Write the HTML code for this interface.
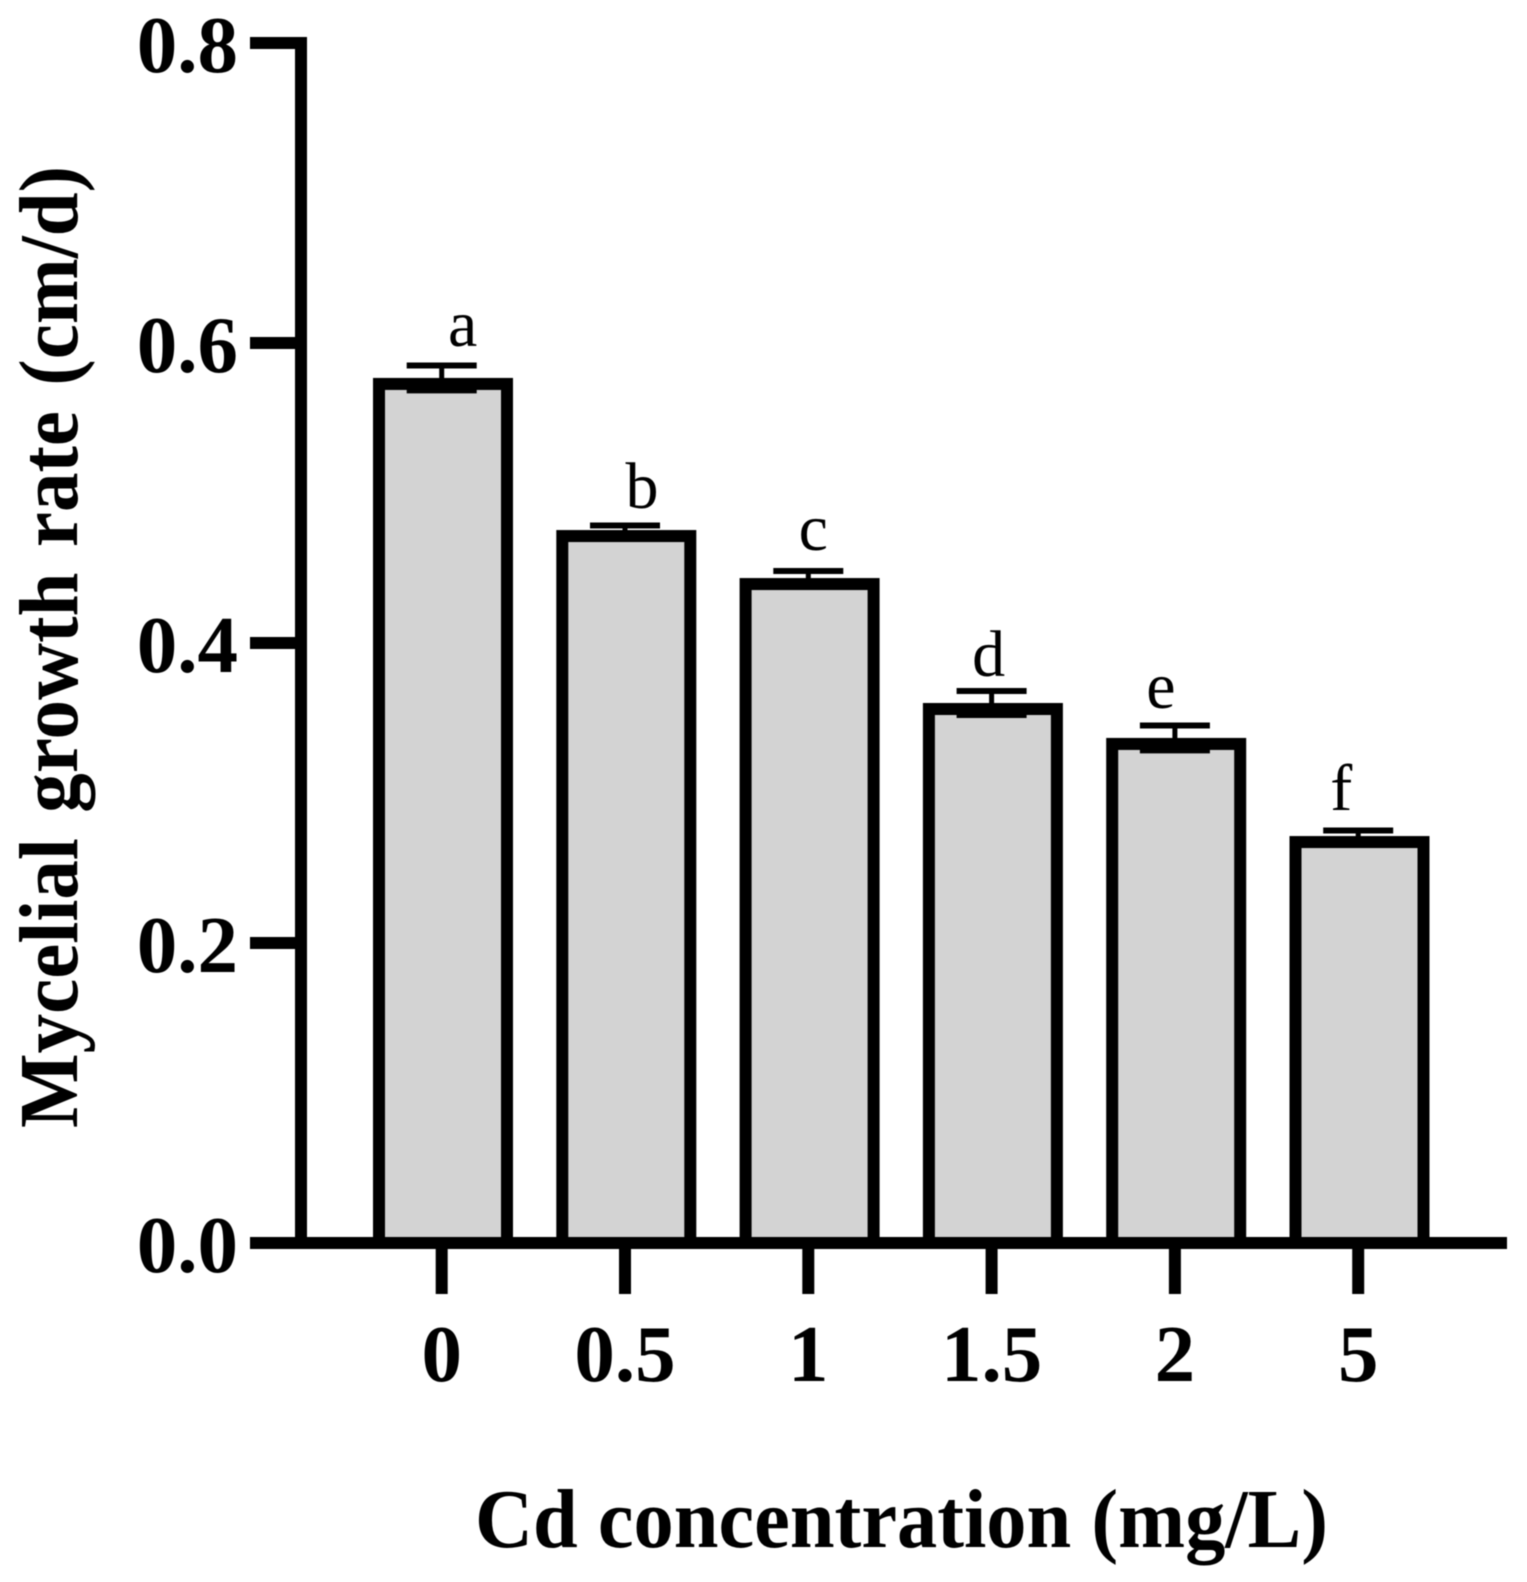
<!DOCTYPE html>
<html lang="en">
<head>
<meta charset="utf-8">
<title>Mycelial growth rate by Cd concentration</title>
<style>
  html, body { margin: 0; padding: 0; background: #fff; }
  #chart { display: block; width: 1527px; height: 1582px; filter: blur(0.6px); }
  text { font-family: "Liberation Serif", "Times New Roman", serif; fill: #000; }
  .bold { font-weight: bold; }
</style>
</head>
<body>
<svg id="chart" xmlns="http://www.w3.org/2000/svg" width="1527" height="1582" viewBox="0 0 1527 1582">
  <rect x="0" y="0" width="1527" height="1582" fill="#fff"></rect>
  <g id="bars"></g>
  <g id="errors"></g>
  <g id="letters"></g>
  <g id="axes"></g>
  <text class="bold" font-size="84" text-anchor="start" transform="translate(77,1128) rotate(-90)" textLength="962" lengthAdjust="spacingAndGlyphs" word-spacing="6">Mycelial growth rate (cm/d)</text>
  <text class="bold" font-size="84" x="475" y="1547" textLength="853" lengthAdjust="spacingAndGlyphs">Cd concentration (mg/L)</text>
</svg>
<script>
const categories = ['0', '0.5', '1', '1.5', '2', '5'];
const growthRates = [0.5767, 0.4753, 0.4433, 0.36, 0.3367, 0.2713];
const errorValues = [0.0083, 0.003, 0.0047, 0.008, 0.0083, 0.0037];
const significance = ['a', 'b', 'c', 'd', 'e', 'f'];
const yTickValues = [0, 0.2, 0.4, 0.6, 0.8];
const yTickLabels = ['0.0', '0.2', '0.4', '0.6', '0.8'];

/* Label nudges relative to each category's error bar */
const letterNudgeX = [21, 17, 5, -3, -14, -17];
const letterNudgeY = [-19.5, -17.5, -21, -15, -17.5, -20.5];

const NS = 'http://www.w3.org/2000/svg';
const AXIS_W = 12;
const BAR_W = 140;
const BAR_STROKE = 12;
const CAP_W = 70;

function yScale(v) { return 1243 - 1500 * v; }
function xScale(i) { return 441.7 + 183.3 * i; }
function barCenter(i) { return xScale(i) + 1.3; }

function make(tag, parent, attrs) {
  const el = document.createElementNS(NS, tag);
  Object.keys(attrs).forEach(function (k) { el.setAttribute(k, attrs[k]); });
  parent.appendChild(el);
  return el;
}

const barsG = document.getElementById('bars');
const errorsG = document.getElementById('errors');
const lettersG = document.getElementById('letters');
const axesG = document.getElementById('axes');

categories.forEach(function (cat, i) {
  const top = yScale(growthRates[i]);
  const base = yScale(0);
  const cx = barCenter(i);
  const half = BAR_STROKE / 2;
  const bar = make('rect', barsG, {
    x: cx - BAR_W / 2 + half,
    y: top + half,
    width: BAR_W - BAR_STROKE,
    height: base - top - half,
    fill: '#d3d3d3',
    stroke: '#000',
    'stroke-width': BAR_STROKE
  });
  
  

  const ex = xScale(i);
  const hi = yScale(growthRates[i] + errorValues[i]);
  const lo = yScale(growthRates[i] - errorValues[i]);
  const stem = make('line', errorsG, { x1: ex, x2: ex, y1: hi, y2: lo, stroke: '#000', 'stroke-width': 5 });
  
  
  const capHi = make('line', errorsG, { x1: ex - CAP_W / 2, x2: ex + CAP_W / 2, y1: hi, y2: hi, stroke: '#000', 'stroke-width': 6 });
  
  
  const capLo = make('line', errorsG, { x1: ex - CAP_W / 2, x2: ex + CAP_W / 2, y1: lo, y2: lo, stroke: '#000', 'stroke-width': 6 });
  
  

  const letter = make('text', lettersG, {
    x: ex + letterNudgeX[i],
    y: hi + letterNudgeY[i],
    'font-size': 66,
    'text-anchor': 'middle'
  });
  letter.textContent = significance[i];
  
  

  const tick = make('line', axesG, { x1: ex, x2: ex, y1: yScale(0), y2: 1294, stroke: '#000', 'stroke-width': AXIS_W });
  
  
  const tickLabel = make('text', axesG, {
    x: ex,
    y: 1381,
    'font-size': 81,
    'font-weight': 'bold',
    'text-anchor': 'middle'
  });
  tickLabel.textContent = cat;
  
  
});

yTickValues.forEach(function (v, i) {
  const y = yScale(v);
  const tick = make('line', axesG, { x1: 250, x2: 301, y1: y, y2: y, stroke: '#000', 'stroke-width': AXIS_W });
  
  
  const label = make('text', axesG, {
    x: 238,
    y: y + 29,
    'font-size': 81,
    'font-weight': 'bold',
    'text-anchor': 'end'
  });
  label.textContent = yTickLabels[i];
  
  
});

const yAxis = make('line', axesG, {
  x1: 301, x2: 301,
  y1: yScale(0.8) - AXIS_W / 2,
  y2: yScale(0) + AXIS_W / 2,
  stroke: '#000', 'stroke-width': AXIS_W
});



const xAxis = make('line', axesG, {
  x1: 250, x2: 1507,
  y1: yScale(0), y2: yScale(0),
  stroke: '#000', 'stroke-width': AXIS_W
});


</script>
</body>
</html>
